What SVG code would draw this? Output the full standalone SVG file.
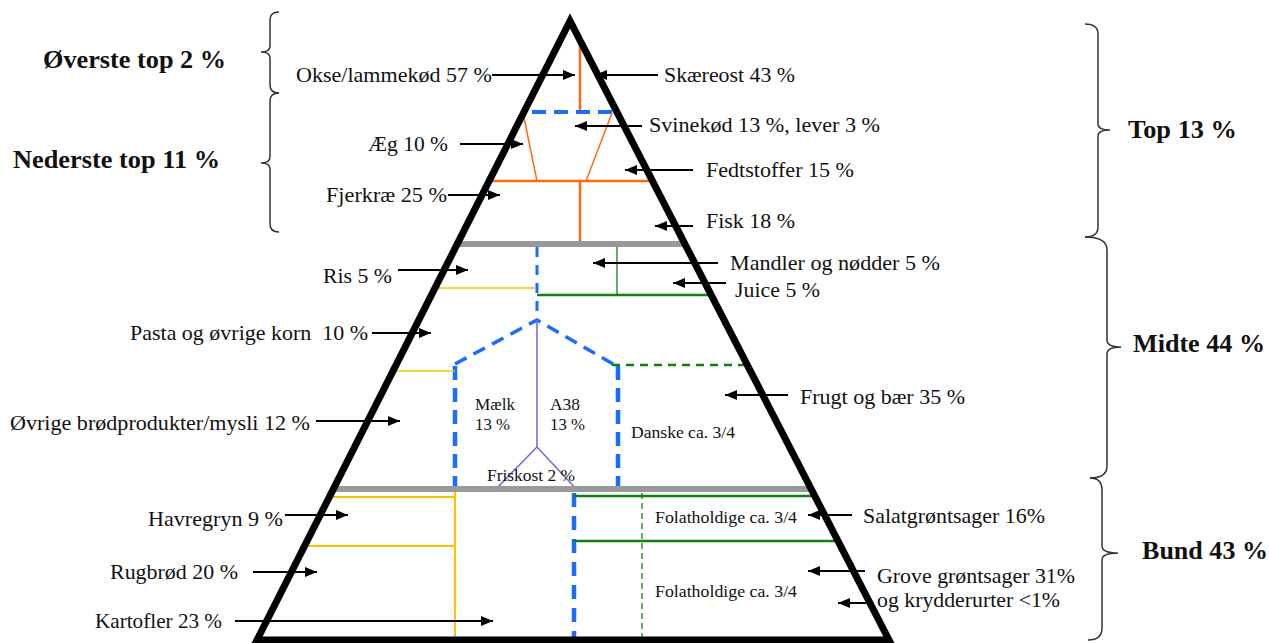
<svg xmlns="http://www.w3.org/2000/svg" width="1269" height="643" viewBox="0 0 1269 643">
<defs>
<marker id="ah" markerUnits="userSpaceOnUse" markerWidth="14" markerHeight="12" refX="12" refY="5" orient="auto">
<path d="M0,0 L12,5 L0,10 z" fill="#000"/>
</marker>
<style>
text{font-family:"Liberation Serif","Times New Roman",serif;fill:#111;}
.r{font-size:21px;}
.b{font-size:25px;font-weight:bold;}
.s{font-size:17px;}
.arr line{stroke:#000;stroke-width:2;marker-end:url(#ah);}
.brace{fill:none;stroke:#333;stroke-width:1.5;}
.or{stroke:#FF6A10;fill:none;}
.bl{stroke:#1A6CFF;fill:none;}
.gr{stroke:#108010;fill:none;}
.ye{stroke:#FFC000;fill:none;}
.pu{stroke:#8060D8;fill:none;stroke-width:1.5;}
.gy{stroke:#999;stroke-width:6;}
</style>
</defs>
<rect width="1269" height="643" fill="#fff"/>

<g id="sections">
<line class="or" x1="580" y1="37" x2="580" y2="112" stroke-width="2.5"/>
<line class="bl" x1="532" y1="112" x2="618" y2="112" stroke-width="4" stroke-dasharray="14 8"/>
<line class="or" x1="523" y1="113" x2="537" y2="181" stroke-width="1.5"/>
<line class="or" x1="612" y1="113" x2="586" y2="181" stroke-width="1.5"/>
<line class="or" x1="487" y1="181" x2="655" y2="181" stroke-width="2.5"/>
<line class="or" x1="580" y1="181" x2="580" y2="243" stroke-width="2.5"/>
<line class="gy" x1="454" y1="244" x2="685" y2="244"/>
<line class="bl" x1="537" y1="247" x2="537" y2="318" stroke-width="3" stroke-dasharray="10 8"/>
<line class="ye" x1="436" y1="288" x2="535" y2="288" stroke-width="1.3"/>
<line class="gr" x1="537" y1="295" x2="712" y2="295" stroke-width="2.5"/>
<line class="gr" x1="617" y1="247" x2="617" y2="295" stroke-width="1.3"/>
<polyline class="bl" points="455,364 537,320 620,368" stroke-width="3.5" stroke-dasharray="13 8"/>
<line class="bl" x1="455" y1="366" x2="455" y2="492" stroke-width="4.5" stroke-dasharray="14 8"/>
<line class="bl" x1="618" y1="366" x2="618" y2="492" stroke-width="4.5" stroke-dasharray="14 8"/>
<line class="ye" x1="393" y1="371" x2="455" y2="371" stroke-width="1.3"/>
<line class="gr" x1="612" y1="365" x2="745" y2="365" stroke-width="2.5" stroke-dasharray="8 6"/>
<polyline class="pu" points="537,320 537,447 493,492"/>
<line class="pu" x1="537" y1="447" x2="579" y2="492"/>
<line class="gy" x1="333" y1="489" x2="812" y2="489"/>
<line class="ye" x1="329" y1="497" x2="455" y2="497" stroke-width="2"/>
<line class="ye" x1="304" y1="546" x2="455" y2="546" stroke-width="2"/>
<line class="ye" x1="455" y1="492" x2="455" y2="640" stroke-width="2"/>
<line class="bl" x1="574" y1="493" x2="574" y2="640" stroke-width="4.5" stroke-dasharray="14 9"/>
<line class="gr" x1="574" y1="496" x2="813" y2="496" stroke-width="2.5"/>
<line class="gr" x1="574" y1="541" x2="837" y2="541" stroke-width="2.5"/>
<line class="gr" x1="642" y1="493" x2="642" y2="640" stroke-width="1.3" stroke-dasharray="6 4"/>
</g>

<g id="pyramid">
<polygon points="570,21 257,640 889,640" fill="none" stroke="#000" stroke-width="7" stroke-linejoin="miter"/>
</g>

<g id="braces">
<path class="brace" d="M279,12 Q270,12 270,20 L270,46 Q270,52 261,52 Q270,52 270,58 L270,85 Q270,93 279,93"/>
<path class="brace" d="M279,93 Q270,93 270,101 L270,157 Q270,163 261,163 Q270,163 270,169 L270,224 Q270,232 279,232"/>
<path class="brace" d="M1085,24 Q1098,24 1098,34 L1098,124 Q1098,130 1110,130 Q1098,130 1098,136 L1098,227 Q1098,237 1085,237"/>
<path class="brace" d="M1085,237 Q1107,237 1107,250 L1107,340 Q1107,347 1121,347 Q1107,347 1107,354 L1107,466 Q1107,478 1090,478"/>
<path class="brace" d="M1090,478 Q1102,478 1102,490 L1102,546 Q1102,553 1118,553 Q1102,553 1102,560 L1102,628 Q1102,640 1088,640"/>
</g>

<g id="group-labels">
<text class="b" x="43" y="68" textLength="183" lengthAdjust="spacingAndGlyphs">Øverste top 2 %</text>
<text class="b" x="13" y="168" textLength="207" lengthAdjust="spacingAndGlyphs">Nederste top 11 %</text>
<text class="b" x="1128" y="138" textLength="109" lengthAdjust="spacingAndGlyphs">Top 13 %</text>
<text class="b" x="1133" y="352" textLength="132" lengthAdjust="spacingAndGlyphs">Midte 44 %</text>
<text class="b" x="1142" y="559" textLength="126" lengthAdjust="spacingAndGlyphs">Bund 43 %</text>
</g>

<g id="food-labels">
<text class="r" x="296" y="82" textLength="196" lengthAdjust="spacingAndGlyphs">Okse/lammekød 57 %</text>
<text class="r" x="664" y="82" textLength="131" lengthAdjust="spacingAndGlyphs">Skæreost 43 %</text>
<text class="r" x="649" y="132" textLength="231" lengthAdjust="spacingAndGlyphs">Svinekød 13 %, lever 3 %</text>
<text class="r" x="368" y="151" textLength="80" lengthAdjust="spacingAndGlyphs">Æg 10 %</text>
<text class="r" x="706" y="177" textLength="148" lengthAdjust="spacingAndGlyphs">Fedtstoffer 15 %</text>
<text class="r" x="326" y="202" textLength="121" lengthAdjust="spacingAndGlyphs">Fjerkræ 25 %</text>
<text class="r" x="706" y="228" textLength="89" lengthAdjust="spacingAndGlyphs">Fisk 18 %</text>
<text class="r" x="323" y="283" textLength="69" lengthAdjust="spacingAndGlyphs">Ris 5 %</text>
<text class="r" x="730" y="270" textLength="210" lengthAdjust="spacingAndGlyphs">Mandler og nødder 5 %</text>
<text class="r" x="735" y="297" textLength="85" lengthAdjust="spacingAndGlyphs">Juice 5 %</text>
<text class="r" x="130" y="340" textLength="238" lengthAdjust="spacingAndGlyphs" xml:space="preserve">Pasta og øvrige korn  10 %</text>
<text class="r" x="10" y="430" textLength="300" lengthAdjust="spacingAndGlyphs">Øvrige brødprodukter/mysli 12 %</text>
<text class="r" x="800" y="404" textLength="165" lengthAdjust="spacingAndGlyphs">Frugt og bær 35 %</text>
<text class="s" x="475" y="410" textLength="40" lengthAdjust="spacingAndGlyphs">Mælk</text>
<text class="s" x="475" y="430" textLength="35" lengthAdjust="spacingAndGlyphs">13 %</text>
<text class="s" x="550" y="410" textLength="30" lengthAdjust="spacingAndGlyphs">A38</text>
<text class="s" x="550" y="430" textLength="35" lengthAdjust="spacingAndGlyphs">13 %</text>
<text class="s" x="631" y="438" textLength="104" lengthAdjust="spacingAndGlyphs">Danske ca. 3/4</text>
<text class="s" x="487" y="481" textLength="88" lengthAdjust="spacingAndGlyphs">Friskost 2 %</text>
<text class="s" x="655" y="523" textLength="142" lengthAdjust="spacingAndGlyphs">Folatholdige ca. 3/4</text>
<text class="s" x="655" y="597" textLength="142" lengthAdjust="spacingAndGlyphs">Folatholdige ca. 3/4</text>
<text class="r" x="863" y="523" textLength="182" lengthAdjust="spacingAndGlyphs">Salatgrøntsager 16%</text>
<text class="r" x="877" y="583" textLength="198" lengthAdjust="spacingAndGlyphs">Grove grøntsager 31%</text>
<text class="r" x="877" y="607" textLength="183" lengthAdjust="spacingAndGlyphs">og krydderurter &lt;1%</text>
<text class="r" x="148" y="526" textLength="135" lengthAdjust="spacingAndGlyphs">Havregryn 9 %</text>
<text class="r" x="110" y="579" textLength="128" lengthAdjust="spacingAndGlyphs">Rugbrød 20 %</text>
<text class="r" x="95" y="628" textLength="127" lengthAdjust="spacingAndGlyphs">Kartofler 23 %</text>
</g>

<g id="connectors" class="arr">
<line x1="492" y1="75" x2="575" y2="75"/>
<line x1="658" y1="75" x2="595" y2="75"/>
<line x1="642" y1="126" x2="575" y2="126"/>
<line x1="460" y1="144" x2="523" y2="144"/>
<line x1="693" y1="170" x2="625" y2="170"/>
<line x1="448" y1="195" x2="500" y2="195"/>
<line x1="693" y1="226" x2="655" y2="226"/>
<line x1="398" y1="270" x2="468" y2="270"/>
<line x1="718" y1="263" x2="593" y2="263"/>
<line x1="726" y1="283" x2="673" y2="283"/>
<line x1="372" y1="333" x2="431" y2="333"/>
<line x1="316" y1="421" x2="400" y2="421"/>
<line x1="788" y1="395" x2="725" y2="395"/>
<line x1="285" y1="515" x2="348" y2="515"/>
<line x1="253" y1="572" x2="317" y2="572"/>
<line x1="235" y1="621" x2="493" y2="621"/>
<line x1="852" y1="515" x2="808" y2="515"/>
<line x1="865" y1="571" x2="808" y2="571"/>
<line x1="870" y1="603" x2="838" y2="603"/>
</g>
</svg>
